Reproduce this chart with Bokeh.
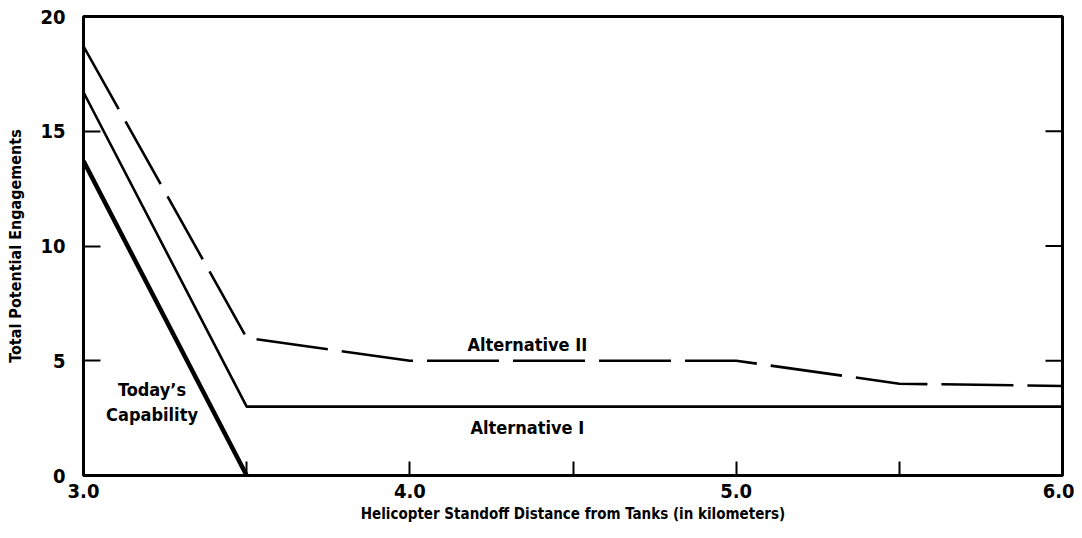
import math
from bokeh.plotting import figure
from bokeh.models import Range1d, FixedTicker, Label
from bokeh.embed import file_html
from bokeh.resources import INLINE

# Data
today_x = [3.0, 3.5]
today_y = [13.7, 0.0]
alt1_x = [3.0, 3.5, 6.0]
alt1_y = [16.7, 3.0, 3.0]
alt2_x = [3.0, 3.5, 4.0, 5.0, 5.5, 6.0]
alt2_y = [18.7, 6.0, 5.0, 5.0, 4.0, 3.9]
x_ticks = [3, 4, 5, 6]
x_minor = [3.5, 4.5, 5.5]
y_ticks = [0, 5, 10, 15, 20]
right_ticks = [5, 10, 15]
x_labels = {3: "3.0", 4: "4.0", 5: "5.0", 6: "6.0"}

FONT = "DejaVu Sans Condensed"

p = figure(width=1074, height=530, output_backend="svg", toolbar_location=None,
           x_range=Range1d(3, 6), y_range=Range1d(0, 20),
           min_border_left=83, min_border_right=12, min_border_top=16, min_border_bottom=55)
p.background_fill_color = "white"
p.border_fill_color = "white"
p.grid.visible = False
p.outline_line_color = "black"
p.outline_line_width = 3

p.line(alt2_x, alt2_y, line_color="black", line_width=2.6, line_dash="72 14")
p.line(alt1_x, alt1_y, line_color="black", line_width=2.6)
p.line(today_x, today_y, line_color="black", line_width=4.5)

# inward ticks on the right-hand frame edge
p.ray(x=[x_ticks[-1]] * len(right_ticks), y=right_ticks, length=17, length_units="screen",
      angle=math.pi, line_color="black", line_width=2)

xa = p.xaxis[0]
xa.ticker = FixedTicker(ticks=x_ticks, minor_ticks=x_minor)
xa.major_label_overrides = x_labels
xa.axis_line_color = None
xa.major_tick_in = 14
xa.major_tick_out = 0
xa.minor_tick_in = 14
xa.minor_tick_out = 0
xa.major_tick_line_width = 2
xa.minor_tick_line_width = 2
xa.major_label_text_font = FONT
xa.major_label_text_font_style = "bold"
xa.major_label_text_font_size = "20px"
xa.major_label_text_color = "black"
xa.major_label_standoff = 8
xa.axis_label = "Helicopter Standoff Distance from Tanks (in kilometers)"
xa.axis_label_text_font = FONT
xa.axis_label_text_font_style = "bold"
xa.axis_label_text_font_size = "15px"
xa.axis_label_text_color = "black"
xa.axis_label_standoff = 4

ya = p.yaxis[0]
ya.ticker = FixedTicker(ticks=y_ticks)
ya.axis_line_color = None
ya.major_tick_in = 17
ya.major_tick_out = 0
ya.minor_tick_line_color = None
ya.major_tick_line_width = 2
ya.major_label_text_font = FONT
ya.major_label_text_font_style = "bold"
ya.major_label_text_font_size = "20px"
ya.major_label_text_color = "black"
ya.major_label_standoff = 18
ya.axis_label = "Total Potential Engagements"
ya.axis_label_text_font = FONT
ya.axis_label_text_font_style = "bold"
ya.axis_label_text_font_size = "16px"
ya.axis_label_text_color = "black"
ya.axis_label_standoff = 12

def lab(x, y, t):
    p.add_layout(Label(x=x, y=y, text=t, text_font=FONT, text_font_style="bold",
                       text_font_size="18px", text_color="black",
                       text_align="center", text_baseline="middle"))

lab(4.36, 5.7, "Alternative II")
lab(4.36, 2.1, "Alternative I")
lab(3.21, 3.75, "Today’s")
lab(3.21, 2.65, "Capability")

open("out.html", "w").write(file_html(p, INLINE))
